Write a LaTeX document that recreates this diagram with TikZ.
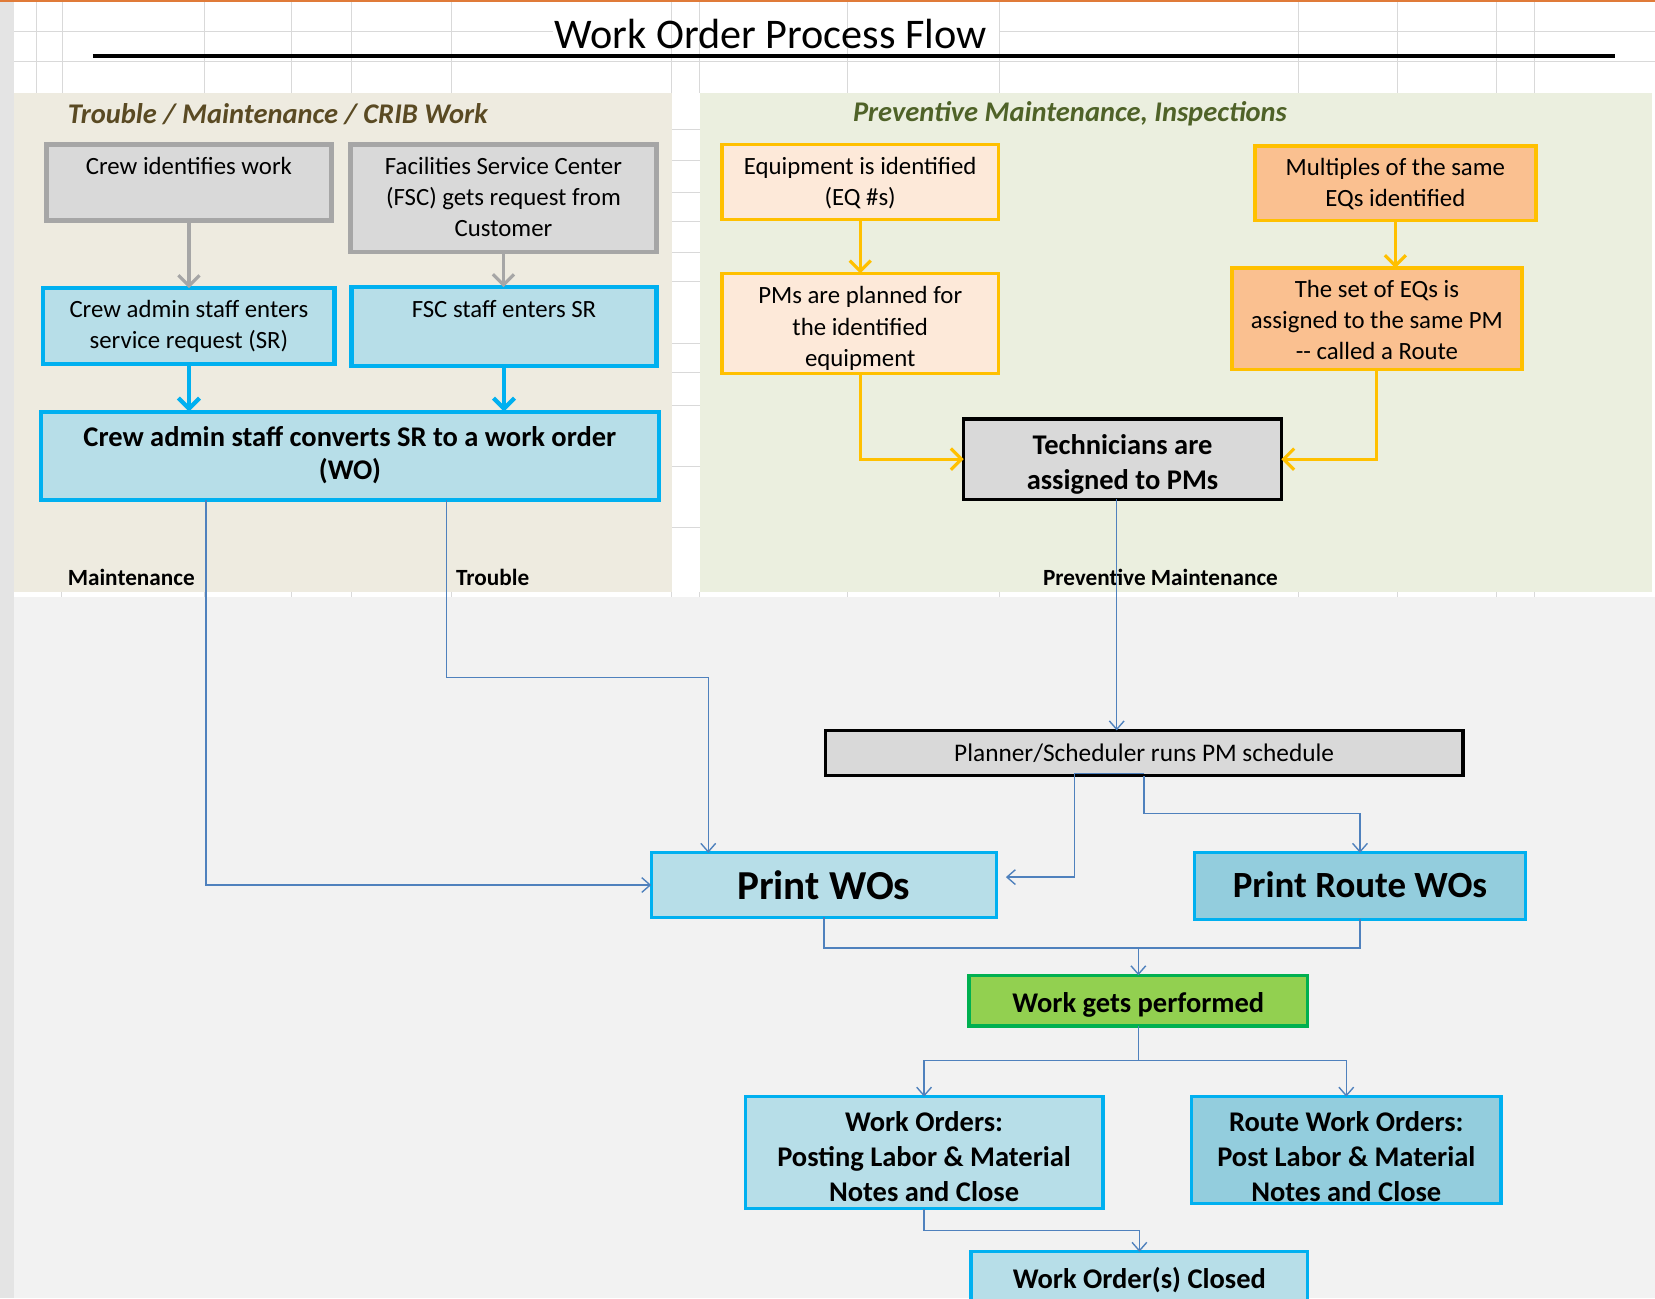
\documentclass[tikz,border=0pt]{standalone}
\usepackage{fontspec}
\setmainfont{Carlito}
\usetikzlibrary{arrows.meta}
\definecolor{gridc}{HTML}{D9D9D9}
\definecolor{leftpanel}{HTML}{EEEBE0}
\definecolor{rightpanel}{HTML}{EBEFDF}
\definecolor{bottomc}{HTML}{F2F2F2}
\definecolor{stripc}{HTML}{E4E4E4}
\definecolor{orangec}{HTML}{E07B39}
\definecolor{gfill}{HTML}{D9D9D9}
\definecolor{gborder}{HTML}{A6A6A6}
\definecolor{bfill}{HTML}{B7DEE8}
\definecolor{bfilldark}{HTML}{93CDDD}
\definecolor{bborder}{HTML}{00B0F0}
\definecolor{peach}{HTML}{FDE9D9}
\definecolor{orangefill}{HTML}{FAC090}
\definecolor{gold}{HTML}{FFC000}
\definecolor{greenfill}{HTML}{92D050}
\definecolor{greenborder}{HTML}{00B050}
\definecolor{conn}{HTML}{4F81BD}
\definecolor{lefttitle}{HTML}{5A4A23}
\definecolor{righttitle}{HTML}{4F6228}
\newcommand\tbox[4]{\parbox[c][#2pt][t]{#1pt}{\centering\rule{0pt}{#3pt}#4\par}}
\newcommand\fsN{\fontsize{23.5}{29.5}\selectfont}
\newcommand\fsB{\fontsize{27}{31}\selectfont\bfseries}
\begin{document}
\begin{tikzpicture}[x=1pt,y=-1pt,
  boxbase/.style={inner sep=0pt, outer sep=0pt},
  gbox/.style={boxbase, fill=gfill, draw=gborder, line width=4pt, font=\fsN},
  bbox/.style={boxbase, fill=bfill, draw=bborder, line width=4pt, font=\fsN},
  peachbox/.style={boxbase, fill=peach, draw=gold, line width=3.5pt, font=\fsN},
  orbox/.style={boxbase, fill=orangefill, draw=gold, line width=3.5pt, font=\fsN},
  kbox/.style={boxbase, fill=gfill, draw=black, line width=3pt},
  pbox/.style={boxbase, fill=bfill, draw=bborder, line width=3pt},
  pboxdark/.style={boxbase, fill=bfilldark, draw=bborder, line width=3pt},
  grbox/.style={boxbase, fill=greenfill, draw=greenborder, line width=3pt},
  grayarrow/.style={draw=gborder, line width=3pt, -{Straight Barb[length=10pt,width=20pt]}},
  bluearrow/.style={draw=bborder, line width=4pt, -{Straight Barb[length=10pt,width=20pt]}},
  goldarrow/.style={draw=gold, line width=3pt, -{Straight Barb[length=10pt,width=20pt]}},
  thin/.style={draw=conn, line width=1.3pt, -{Straight Barb[length=8pt,width=14pt]}},
  thinline/.style={draw=conn, line width=1.3pt},
  lbl/.style={inner sep=0pt, font=\fontsize{22}{24}\selectfont\bfseries, anchor=west},
  paneltitle/.style={inner sep=0pt, font=\fontsize{27}{30}\selectfont\bfseries\itshape, anchor=west},
  gridline/.style={draw=gridc, line width=1pt}
]
\useasboundingbox (0,0) rectangle (1568,1230);
\clip (0,0) rectangle (1568,1230);
\fill[white] (0,0) rectangle (1568,1230);
% grid in the top rows
\foreach \x in {35,59,194,276,333,428,636,663,803,947,1230,1324,1418,1454}
  \draw[gridline] (\x,0) -- (\x,88);
\draw[gridline] (13,30) -- (524,30);
\draw[gridline] (947,30) -- (1568,30);
\draw[gridline] (13,58.5) -- (1568,58.5);
% panels
\fill[leftpanel] (13,88) rectangle (637,561);
\fill[rightpanel] (663,88) rectangle (1565,561);
\foreach \y in {123,152,182,210,239,267,325,353,384,442,500}
  \draw[gridline] (637,\y) -- (663,\y);
\foreach \x in {58,194,276,333,428,636,663,803,947,1230,1324,1418,1454}
  \draw[gridline] (\x,561) -- (\x,566);
\fill[bottomc] (13,566) rectangle (1568,1230);
\fill[stripc] (0,0) rectangle (13,1230);
\fill[orangec] (0,0) rectangle (1568,2);

% title
\node[inner sep=0pt, font=\fontsize{40}{44}\selectfont] (title) at (730,32) {Work Order Process Flow};
\draw[line width=4pt] (88,53) -- (1530,53);

% panel titles
\node[paneltitle, text=lefttitle] (ttlleft) at (64,108) {Trouble / Maintenance / CRIB Work};
\node[paneltitle, text=righttitle] (ttlright) at (808,108) {Preventive Maintenance, Inspections};

% left panel boxes
\node[gbox] (crew) at (179,173) {\tbox{270}{72}{28}{Crew identifies work}};
\node[gbox] (fsc) at (477,188) {\tbox{290}{102}{28}{Facilities Service Center\\(FSC) gets request from\\Customer}};
\node[bbox] (crewsr) at (179,309) {\tbox{276}{72}{28}{Crew admin staff enters\\service request (SR)}};
\node[bbox] (fscsr) at (477.5,309.5) {\tbox{289}{75}{29}{FSC staff enters SR}};
\node[bbox, font=\fsB] (convert) at (331.5,432) {\tbox{585}{84}{33}{Crew admin staff converts SR to a work order\\(WO)}};

\draw[grayarrow] (crew.south) -- (crew.south |- crewsr.north);
\draw[grayarrow] (fsc.south) -- (fsc.south |- fscsr.north);
\draw[bluearrow] (crewsr.south) -- (crewsr.south |- convert.north);
\draw[bluearrow] (fscsr.south) -- (fscsr.south |- convert.north);

% right panel boxes
\node[peachbox] (equip) at (815,172.5) {\tbox{262}{71}{28}{Equipment is identified\\(EQ \#s)}};
\node[peachbox] (pms) at (815,306.5) {\tbox{262}{95}{29}{PMs are planned for\\the identified\\equipment}};
\node[orbox] (multi) at (1322,173.5) {\tbox{266}{71}{28}{Multiples of the same\\EQs identified}};
\node[orbox] (routeset) at (1304.5,302) {\tbox{275}{96}{28}{The set of EQs is\\assigned to the same PM\\-{}- called a Route}};
\node[kbox, font=\fontsize{27}{33}\selectfont\bfseries] (tech) at (1063.5,435) {\tbox{301}{76}{34}{Technicians are\\assigned to PMs}};

\draw[goldarrow] (equip.south) -- (pms.north);
\draw[goldarrow] (multi.south) -- (multi.south |- routeset.north);
\draw[goldarrow] (pms.south) |- (tech.west);
\draw[goldarrow] (routeset.south) |- (tech.east);

% path labels
\node[lbl] (lblmaint) at (64,547) {Maintenance};
\node[lbl] (lbltrouble) at (432,547) {Trouble};
\node[lbl] (lblpm) at (988,547) {Preventive Maintenance};

% lower boxes
\node[kbox, font=\fontsize{24}{28}\selectfont] (planner) at (1084,713.5) {\tbox{604}{43}{29}{Planner/Scheduler runs PM schedule}};
\node[pbox, font=\fontsize{39}{44}\selectfont\bfseries] (printwo) at (780.5,838.5) {\tbox{327}{61}{44.5}{Print WOs}};
\node[pboxdark, font=\fontsize{35}{40}\selectfont\bfseries] (printroute) at (1288.5,839.5) {\tbox{313}{63}{42}{Print Route WOs}};
\node[grbox, font=\fsB] (perform) at (1078.5,948) {\tbox{321}{48}{35}{Work gets performed}};
\node[pbox, font=\fontsize{27}{33}\selectfont\bfseries] (wopost) at (875.5,1092) {\tbox{339}{106}{33}{Work Orders:\\Posting Labor \& Material\\Notes and Close}};
\node[pboxdark, font=\fontsize{27}{33}\selectfont\bfseries] (routepost) at (1275.5,1089.5) {\tbox{293}{101}{33}{Route Work Orders:\\Post Labor \& Material\\Notes and Close}};
\node[pbox, font=\fsB] (closed) at (1079.5,1218) {\tbox{319}{64}{35}{Work Order(s) Closed}};

% thin connectors
\draw[thin] ([xshift=-136.5pt]convert.south) |- (printwo.west);
\draw[thin] ([xshift=91.5pt]convert.south) -- ++(0,168) -| ([xshift=-109.5pt]printwo.north);
\draw[thin] ([xshift=-5.5pt]tech.south) -- ([xshift=-5.5pt]tech.south |- planner.north);
\draw[thin, shorten >=9pt] ([yshift=2pt]planner.south) -- ++(-66,0) |- ([yshift=7.5pt]printwo.east);
\draw[thin] (planner.south) -- ++(0,36) -| (printroute.north);
\draw[thin] (printwo.south) -- ++(0,29) -| (perform.north);
\draw[thinline] (printroute.south) -- ++(0,27) -| (perform.north);
\draw[thin] (perform.south) -- ++(0,33) -| (wopost.north);
\draw[thin] (perform.south) -- ++(0,33) -| (routepost.north);
\draw[thin] (wopost.south) -- ++(0,21) -| (closed.north);
\end{tikzpicture}
\end{document}
